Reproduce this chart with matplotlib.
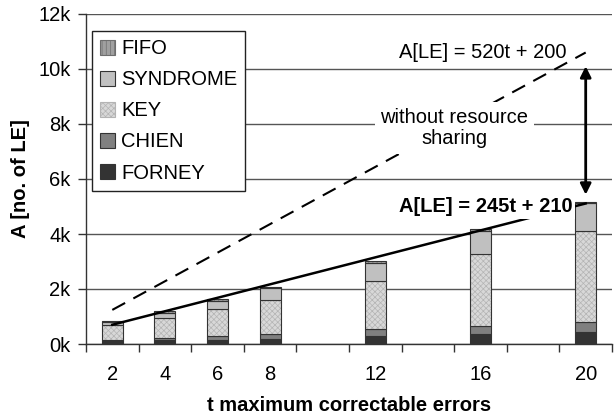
import matplotlib
matplotlib.use('Agg')
import matplotlib.pyplot as plt
from matplotlib.patches import Patch

plt.rcParams['font.family'] = ['Liberation Sans', 'DejaVu Sans']
plt.rcParams['hatch.linewidth'] = 0.5

T_VALUES = [2, 4, 6, 8, 12, 16, 20]
FORNEY = [100, 140, 150, 200, 280, 360, 430]
CHIEN = [50, 90, 140, 150, 250, 290, 380]
KEY = [540, 700, 970, 1250, 1770, 2610, 3290]
SYNDROME = [100, 210, 320, 430, 650, 840, 1020]
FIFO = [40, 60, 50, 40, 50, 70, 50]

Y_TICKS = [0, 2000, 4000, 6000, 8000, 10000, 12000]
Y_LABELS = ['0k', '2k', '4k', '6k', '8k', '10k', '12k']

FS = 14.5

# name, values, face, hatch, hatch colour
LAYERS = [('FORNEY', FORNEY, '#333333', None, None),
          ('CHIEN', CHIEN, '#808080', None, None),
          ('KEY', KEY, '#d8d8d8', 'xxxxxx', '#b4b4b4'),
          ('SYNDROME', SYNDROME, '#c0c0c0', None, None),
          ('FIFO', FIFO, '#a0a0a0', '||||', '#6e6e6e')]

fig = plt.figure(figsize=(6.16, 4.19), dpi=100)
ax = fig.add_axes([86/616, 1 - 344/419, 526/616, 330/419])

bottom = [0] * len(T_VALUES)
handles = []
for name, vals, face, hatch, hcol in LAYERS:
    if hatch:
        ax.bar(T_VALUES, vals, width=0.8, bottom=bottom, color=face, hatch=hatch,
               edgecolor=hcol, linewidth=0, zorder=3)
        ax.bar(T_VALUES, vals, width=0.8, bottom=bottom, fill=False,
               edgecolor='#333333', linewidth=0.8, zorder=3)
    else:
        ax.bar(T_VALUES, vals, width=0.8, bottom=bottom, color=face,
               edgecolor='#333333', linewidth=0.8, zorder=3)
    handles.append(Patch(facecolor=face, hatch=hatch,
                         edgecolor=hcol if hcol else '#333333', linewidth=0.8, label=name))
    bottom = [b + v for b, v in zip(bottom, vals)]

# area models
t_line = [2, 20]
ax.plot(t_line, [520 * t + 200 for t in t_line], color='black', lw=1.5,
        dashes=(7, 4.5), zorder=4)
ax.plot(t_line, [245 * t + 210 for t in t_line], color='black', lw=1.8, zorder=4)

ax.text(16.1, 10600, 'A[LE] = 520t + 200', fontsize=FS, ha='center', va='center', zorder=5)
ax.text(15.0, 7850, 'without resource\nsharing', fontsize=FS, ha='center', va='center',
        linespacing=1.15, zorder=5,
        bbox=dict(facecolor='white', edgecolor='none', pad=4))
ax.text(16.2, 5000, 'A[LE] = 245t + 210', fontsize=FS, fontweight='bold', ha='center',
        va='center', zorder=5,
        bbox=dict(facecolor='white', edgecolor='none', pad=2))
ax.annotate('', xy=(20, 5430), xytext=(20, 10100),
            arrowprops=dict(arrowstyle='<|-|>', color='black', lw=2,
                            mutation_scale=16, shrinkA=0, shrinkB=0), zorder=5)

ax.set_xlim(1, 21)
ax.set_ylim(0, 12000)
ax.set_yticks(Y_TICKS, Y_LABELS)
ax.set_xticks(range(1, 22, 2), [''] * 11)
ax.set_xticks(T_VALUES, [str(t) for t in T_VALUES], minor=True)
ax.tick_params(axis='x', which='minor', length=0, pad=15, labelsize=FS)
ax.tick_params(axis='x', which='major', length=6, width=1, color='#333333')
ax.tick_params(axis='y', length=6, width=1, color='#333333', labelsize=FS, pad=5)
ax.yaxis.grid(True, color='#555555', lw=1, zorder=0)
ax.set_axisbelow(True)
for s in ['top', 'right']:
    ax.spines[s].set_visible(False)
for s in ['left', 'bottom']:
    ax.spines[s].set_color('#333333')
    ax.spines[s].set_linewidth(1)

ax.set_xlabel('t maximum correctable errors', fontsize=FS, fontweight='bold', labelpad=9)
ax.set_ylabel('A [no. of LE]', fontsize=FS, fontweight='bold', labelpad=6)

leg = ax.legend(handles=handles[::-1], loc='upper left', bbox_to_anchor=(0.011, 0.948),
                fontsize=FS, handlelength=0.75, handleheight=0.75, handletextpad=0.3,
                labelspacing=0.6, borderpad=0.4, borderaxespad=0, fancybox=False,
                framealpha=1, edgecolor='#222222')
leg.get_frame().set_linewidth(1)
leg.set_zorder(6)

fig.savefig('out.png', dpi=100)
